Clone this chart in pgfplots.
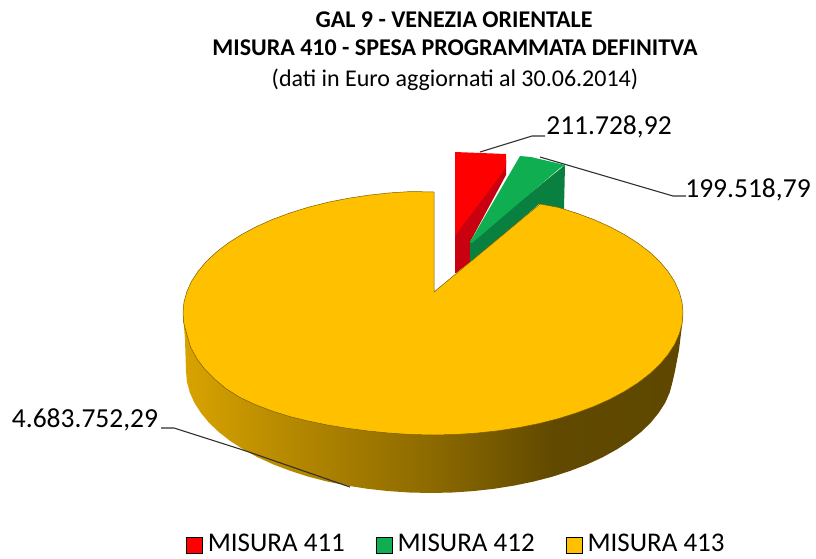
\documentclass[border=0pt]{standalone}
\usepackage{pgfplots}
\pgfplotsset{compat=1.18}
\usepackage{fontspec}
\setmainfont{Carlito}
\definecolor{rtop}{HTML}{FF0000}
\definecolor{rside}{HTML}{C80010}
\definecolor{gtop}{HTML}{0FAE50}
\definecolor{gside}{HTML}{0A8040}
\definecolor{ytop}{HTML}{FFC000}
\definecolor{yedge}{HTML}{7A5E00}
\definecolor{lead}{HTML}{303030}
\pgfdeclarehorizontalshading{rim}{100bp}{
 color(0bp)=(ytop!85!black); color(25bp)=(ytop!85!black);
 color(35bp)=(ytop!72!black); color(50bp)=(ytop!55!black);
 color(62bp)=(ytop!38!black); color(75bp)=(ytop!37!black); color(100bp)=(ytop!37!black)}
\begin{document}
\begin{tikzpicture}
\path[use as bounding box] (0,0) rectangle (816pt,558pt);
\begin{axis}[
  at={(0,0)},anchor=south west,
  width=816pt,height=558pt,scale only axis,
  xmin=0,xmax=816,ymin=0,ymax=558,y dir=reverse,
  hide axis,clip=false,
  legend style={at={(axis cs:186,543)},anchor=west,draw=none,fill=none,
    legend columns=3,font=\fontsize{27}{29}\selectfont,
    /tikz/every odd column/.append style={column sep=3pt},
    /tikz/every even column/.append style={column sep=29pt},
    inner sep=0pt,outer sep=0pt},
  legend image code/.code={\draw[#1,draw=black,line width=.8pt] (0pt,-10pt) rectangle (16pt,6pt);},
]
% MISURA 411
\addplot[forget plot,fill=rside,draw=none] coordinates {(455,200) (506,160) (506,175) (470,242) (470,262) (456,273) (455,273)} --cycle;
\addplot[fill=rtop,draw=none] coordinates {(455,152) (506,154) (506,165) (503,172) (457,233) (455,236)} --cycle;
\addlegendentry{MISURA 411}
% MISURA 412
\addplot[forget plot,fill=gside,draw=none] coordinates {(565,165) (564,209) (539,204) (472,262) (470,262) (470,242)} --cycle;
\addplot[fill=gtop,draw=none] coordinates {(520,156) (531,157) (565,165) (560,168) (472,243) (470,242)} --cycle;
\addlegendentry{MISURA 412}
% MISURA 413 rim
\addplot[forget plot,shading=rim,draw=none] coordinates {
(183,313) (185,340) (186,371) (186.9,381.6) (189.7,392.2) (194.3,402.6) (200.8,412.7) (208.9,422.6) (218.8,432) (230.3,441) (243.3,449.4) (257.7,457.3) (273.5,464.5) (290.5,470.9) (308.5,476.7) (327.5,481.6) (347.2,485.6) (367.6,488.8) (388.5,491.1) (409.6,492.5) (431,493) (452.1,492.5) (473.1,491.1) (493.8,488.8) (514,485.6) (533.4,481.6) (552.3,476.7) (570.1,470.9) (586.9,464.5) (602.5,457.3) (616.8,449.4) (629.7,441) (641,432) (650.8,422.6) (658.8,412.7) (665.3,402.6) (669.8,392.2) (672.6,381.6) (675,371) (679,350) (682,325) (683,313)} --cycle;
% MISURA 413 top
\addplot[fill=ytop,draw=yedge,line width=.5pt] coordinates {
(434,292) (434,192) (411.2,191.5) (389.6,192.9) (368.3,195.2) (347.5,198.4) (327.4,202.4) (308,207.3) (289.6,213.1) (272.3,219.5) (256.2,226.7) (241.5,234.6) (228.2,243) (216.5,252) (206.4,261.4) (198.1,271.3) (191.5,281.4) (186.8,291.8) (183.9,302.4) (183,313) (183.9,323.6) (186.8,334.2) (190.5,347) (197,359) (205,369.5) (215,379.5) (226.5,389) (240,397.5) (255,404.5) (272,411) (289.6,416.5) (308,421) (327.4,425) (347.5,428.3) (368.3,431) (389.6,433.1) (411.2,434.5) (433,435) (454.8,434.5) (476.4,433.1) (497.7,430.8) (518.5,427.6) (538.6,423.6) (558,418.7) (576.4,412.9) (593.7,406.5) (609.8,399.3) (624.5,391.4) (637.8,383) (649.5,374) (659.6,364.6) (667.9,354.7) (674.5,344.6) (679.2,334.2) (682.1,323.6) (683,313) (682.1,302.4) (679.2,291.8) (674.5,281.4) (667.9,271.3) (659.6,261.4) (649.5,252) (637.8,243) (624.5,234.6) (609.8,226.7) (593.7,219.5) (576.4,213.1) (558,207.3) (540,204)} --cycle;
\addlegendentry{MISURA 413}
% leader lines
\addplot[forget plot,lead,line width=1.1pt] coordinates {(480,152) (532,136) (545,136)};
\addplot[forget plot,lead,line width=1.1pt] coordinates {(540,157) (673,196) (686,196)};
\addplot[forget plot,lead,line width=1.1pt] coordinates {(161,428) (174,428) (243,450) (350,487)};
% labels
\node[anchor=center,font=\fontsize{27.5}{29}\selectfont] at (axis cs:609,127) {211.728,92};
\node[anchor=center,font=\fontsize{27.5}{29}\selectfont] at (axis cs:748,190) {199.518,79};
\node[anchor=center,font=\fontsize{27.5}{29}\selectfont] at (axis cs:85,420) {4.683.752,29};
\node[anchor=center,font=\bfseries\fontsize{24}{26}\selectfont] at (axis cs:454,20) {GAL 9 - VENEZIA ORIENTALE};
\node[anchor=center,font=\bfseries\fontsize{24}{26}\selectfont] at (axis cs:455,48) {MISURA 410 - SPESA PROGRAMMATA DEFINITVA};
\node[anchor=center,font=\fontsize{24}{26}\selectfont] at (axis cs:455,80) {(dati in Euro aggiornati al 30.06.2014)};
\end{axis}
\end{tikzpicture}
\end{document}
